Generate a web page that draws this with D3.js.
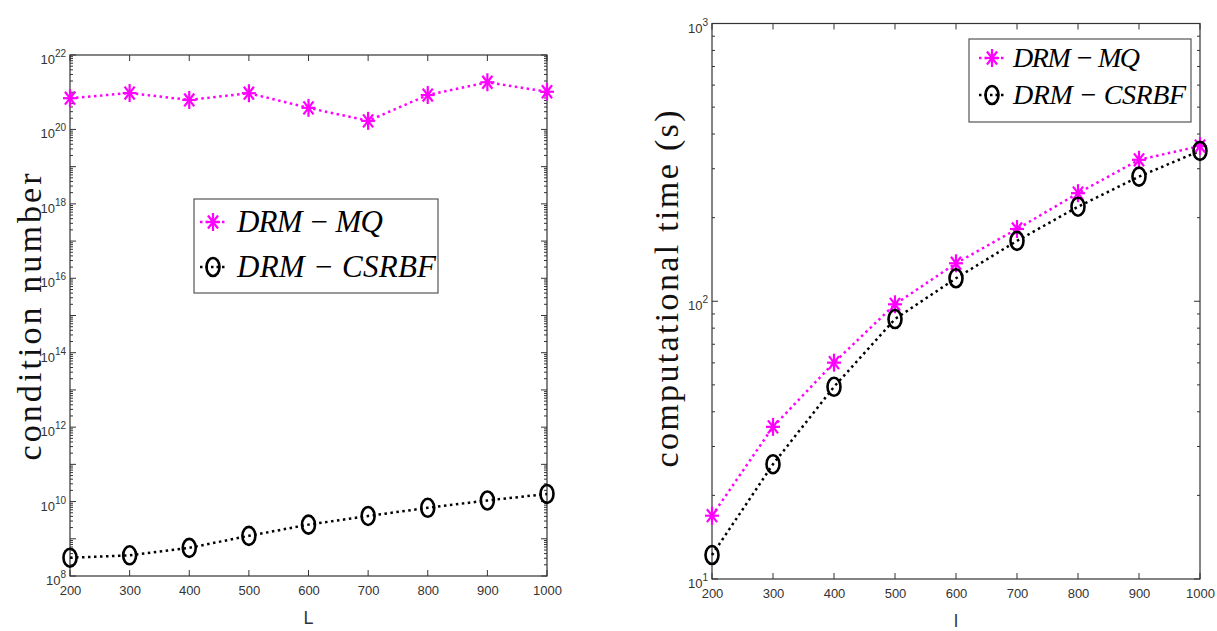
<!DOCTYPE html>
<html>
<head>
<meta charset="utf-8">
<script src="https://cdn.jsdelivr.net/npm/d3@7"></script>
<style>
  html, body { margin: 0; padding: 0; background: #fff; }
  svg { display: block; }
  .tick-label { font-family: "Liberation Sans Narrow", "Liberation Sans", Arial, sans-serif; font-size: 13px; fill: #333; }
  .axis-title { font-family: "Liberation Serif", "DejaVu Serif", serif; font-size: 34px; fill: #111; }
  .legend-text { font-family: "Liberation Serif", "DejaVu Serif", serif; font-style: italic; fill: #000; }
</style>
</head>
<body>
<svg id="chart" width="1217" height="631"></svg>
<script>
// Sizes of the point set
const sizes = [200, 300, 400, 500, 600, 700, 800, 900, 1000];

// Condition numbers of the interpolation matrices
const condMQ     = [6.9e20, 9.5e20, 6.2e20, 9.4e20, 3.8e20, 1.7e20, 8.4e20, 1.85e21, 1.03e21];
const condCSRBF  = [3.1e8, 3.6e8, 5.7e8, 1.2e9, 2.4e9, 4.1e9, 6.8e9, 1.07e10, 1.6e10];

// Computational time in seconds
const timeMQ     = [16.9, 35.3, 60.1, 97.5, 137, 182, 245, 323, 362];
const timeCSRBF  = [12.2, 25.9, 49.2, 86.3, 121, 165, 219, 281, 348];

const seriesNames = ["DRM \u2212 MQ", "DRM \u2212 CSRBF"];
const condTickExps = [8, 10, 12, 14, 16, 18, 20, 22];
const timeTickExps = [1, 2, 3];

const MAGENTA = "#ff00ff";
const svg = d3.select("#chart");

function asterisk(g, x, y, color) {
  const s = g.append("g").attr("transform", `translate(${x},${y})`)
    .attr("stroke", color).attr("stroke-width", 2.2).attr("stroke-linecap", "butt");
  const rx = 7, ry = 9;
  [[0, -ry, 0, ry], [-rx, 0, rx, 0], [-rx*0.72, -ry*0.72, rx*0.72, ry*0.72], [-rx*0.72, ry*0.72, rx*0.72, -ry*0.72]]
    .forEach(d => s.append("line").attr("x1", d[0]).attr("y1", d[1]).attr("x2", d[2]).attr("y2", d[3]));
}
function ring(g, x, y) {
  g.append("ellipse").attr("cx", x).attr("cy", y).attr("rx", 6.5).attr("ry", 9)
    .attr("fill", "none").attr("stroke", "#000").attr("stroke-width", 2.6);
}

function panel(opt) {
  const g = svg.append("g");
  const x = d3.scaleLinear().domain([200, 1000]).range([opt.x0, opt.x1]);
  const y = d3.scaleLog().domain(opt.yDomain).range([opt.y0, opt.y1]);

  // minor ticks on the log axis (left and right, pointing inward)
  const lo = Math.log10(opt.yDomain[0]), hi = Math.log10(opt.yDomain[1]);
  const minor = [];
  for (let e = lo; e < hi; e++) for (let m = 2; m <= 9; m++) minor.push(m * Math.pow(10, e));
  const majors = d3.range(lo, hi + 1).map(e => Math.pow(10, e));
  const tk = g.append("g").attr("stroke", "#333").attr("stroke-width", 1);
  minor.forEach(v => {
    tk.append("line").attr("x1", opt.x0).attr("x2", opt.x0 + 3).attr("y1", y(v)).attr("y2", y(v));
    tk.append("line").attr("x1", opt.x1).attr("x2", opt.x1 - 3).attr("y1", y(v)).attr("y2", y(v));
  });
  majors.forEach(v => {
    tk.append("line").attr("x1", opt.x0).attr("x2", opt.x0 + 6).attr("y1", y(v)).attr("y2", y(v));
    tk.append("line").attr("x1", opt.x1).attr("x2", opt.x1 - 6).attr("y1", y(v)).attr("y2", y(v));
  });
  sizes.forEach(v => {
    tk.append("line").attr("x1", x(v)).attr("x2", x(v)).attr("y1", opt.y0).attr("y2", opt.y0 - 6);
    tk.append("line").attr("x1", x(v)).attr("x2", x(v)).attr("y1", opt.y1).attr("y2", opt.y1 + 6);
  });

  // bottom axis labels through d3 axis
  const xa = g.append("g").attr("transform", `translate(0,${opt.y0})`)
    .call(d3.axisBottom(x).tickValues(sizes).tickSize(0).tickPadding(10).tickFormat(d3.format("d")));
  xa.select(".domain").remove();
  xa.selectAll("text").attr("class", "tick-label").attr("font-size", null).attr("font-family", null);

  // y labels as 10 with superscript exponent
  opt.tickExps.forEach(e => {
    const t = g.append("text").attr("class", "tick-label")
      .attr("x", opt.x0 - 4).attr("y", y(Math.pow(10, e)) + 9).attr("text-anchor", "end");
    t.append("tspan").text("10");
    t.append("tspan").attr("dy", -7).attr("font-size", 10).text(String(e));
  });

  // frame
  g.append("rect").attr("x", opt.x0).attr("y", opt.y1).attr("width", opt.x1 - opt.x0)
    .attr("height", opt.y0 - opt.y1).attr("fill", "none").attr("stroke", "#333").attr("stroke-width", 1.2);

  // series lines
  const line = d3.line().x((d, i) => x(sizes[i])).y(d => y(d));
  g.append("path").datum(opt.mq).attr("d", line).attr("fill", "none")
    .attr("stroke", MAGENTA).attr("stroke-width", 2.5).attr("stroke-dasharray", "2.5,3.5");
  g.append("path").datum(opt.cs).attr("d", line).attr("fill", "none")
    .attr("stroke", "#000").attr("stroke-width", 2.5).attr("stroke-dasharray", "2.5,3.5");
  opt.mq.forEach((v, i) => asterisk(g, x(sizes[i]), y(v), MAGENTA));
  opt.cs.forEach((v, i) => ring(g, x(sizes[i]), y(v)));

  // axis titles
  g.append("text").attr("class", "axis-title")
    .attr("transform", `translate(${opt.yTitleX},${opt.yTitleY}) rotate(-90)`)
    .attr("text-anchor", "middle").attr("textLength", opt.yTitleLen).attr("lengthAdjust", "spacing")
    .text(opt.yTitle);
  g.append("text").attr("x", (opt.x0 + opt.x1) / 2).attr("y", opt.y0 + 48)
    .attr("text-anchor", "middle").attr("font-family", "Liberation Sans Narrow, Liberation Sans, sans-serif")
    .attr("font-size", 18).attr("fill", "#333").text(opt.xTitle);

  // legend
  const L = opt.legend;
  const lg = g.append("g");
  lg.append("rect").attr("x", L.x).attr("y", L.y).attr("width", L.w).attr("height", L.h)
    .attr("fill", "#fff").attr("stroke", "#555").attr("stroke-width", 1.2);
  [0, 1].forEach(i => {
    const cy = L.y + L.rows[i];
    lg.append("line").attr("x1", L.mx - 13).attr("x2", L.mx + 13).attr("y1", cy).attr("y2", cy)
      .attr("stroke", i === 0 ? MAGENTA : "#000").attr("stroke-width", 2.5).attr("stroke-dasharray", "2.5,3");
    if (i === 0) asterisk(lg, L.mx, cy, MAGENTA); else ring(lg, L.mx, cy);
    lg.append("text").attr("class", "legend-text").attr("x", L.tx).attr("y", cy + L.fs * 0.33)
      .attr("font-size", L.fs).attr("textLength", L.lens[i]).attr("lengthAdjust", "spacing")
      .text(seriesNames[i]);
  });
}

panel({
  x0: 70, x1: 547, y0: 576, y1: 55,
  yDomain: [1e8, 1e22], tickExps: condTickExps,
  mq: condMQ, cs: condCSRBF,
  yTitle: "condition number", yTitleX: 41, yTitleY: 317, yTitleLen: 287,
  xTitle: "L",
  legend: { x: 194, y: 199, w: 244, h: 94, rows: [23, 68], mx: 213, tx: 237, fs: 31, lens: [146, 199] }
});

panel({
  x0: 712, x1: 1200, y0: 579, y1: 23.5,
  yDomain: [10, 1000], tickExps: timeTickExps,
  mq: timeMQ, cs: timeCSRBF,
  yTitle: "computational time (s)", yTitleX: 678, yTitleY: 289, yTitleLen: 357,
  xTitle: "l",
  legend: { x: 969, y: 39, w: 222, h: 83, rows: [19, 56], mx: 992, tx: 1013, fs: 28, lens: [127, 173] }
});
</script>
</body>
</html>
